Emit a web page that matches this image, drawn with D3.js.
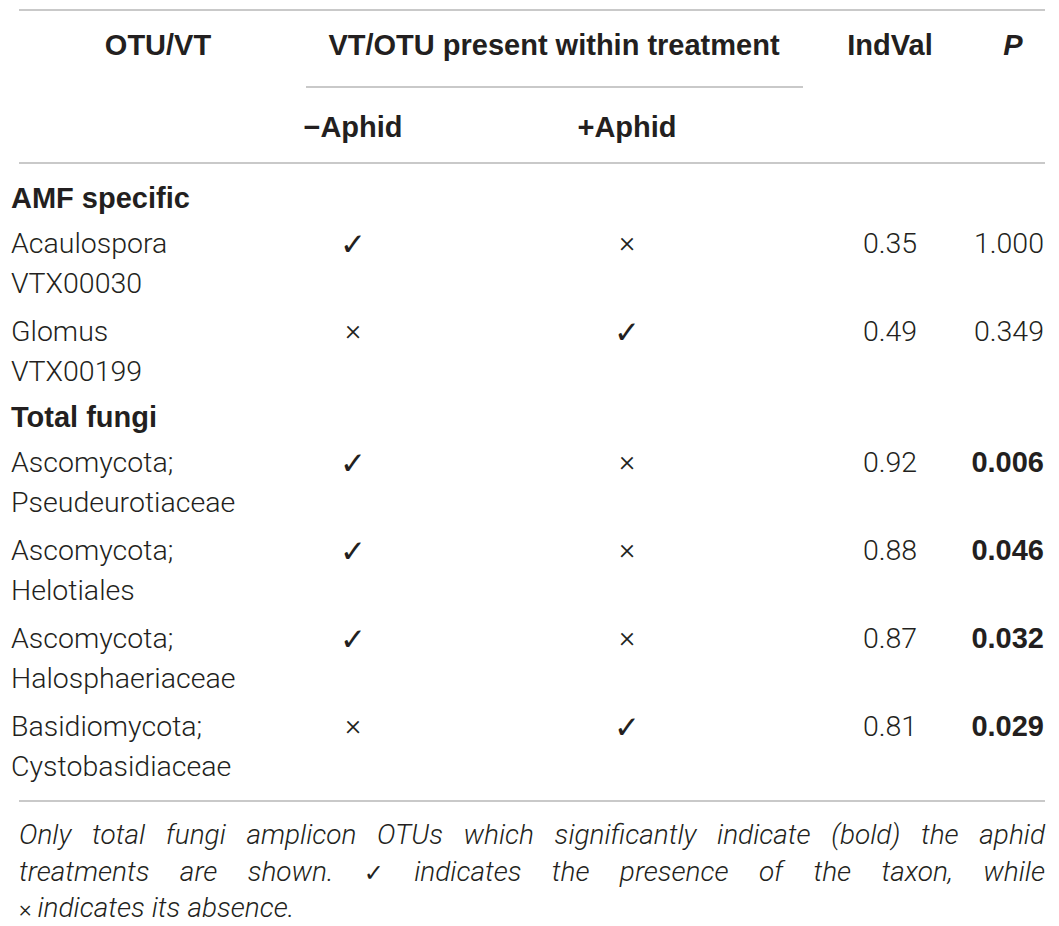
<!DOCTYPE html>
<html>
<head>
<meta charset="utf-8">
<script src="https://cdn.jsdelivr.net/npm/d3@7"></script>
<style>
    html, body { margin: 0; padding: 0; background: #fff; }
    svg { display: block; }
</style>
</head>
<body>
<div id="chart"></div>
<script>
// ── Table content ─────────────────────────────────────────────────────────────
const headers = ['OTU/VT', 'VT/OTU present within treatment', 'IndVal', 'P'];
const treatments = ['\u2212Aphid', '+Aphid'];
const groups = ['AMF specific', 'Total fungi'];

const taxa = [
    ['Acaulospora', 'VTX00030'],
    ['Glomus', 'VTX00199'],
    ['Ascomycota;', 'Pseudeurotiaceae'],
    ['Ascomycota;', 'Helotiales'],
    ['Ascomycota;', 'Halosphaeriaceae'],
    ['Basidiomycota;', 'Cystobasidiaceae'],
];
const taxonGroup = [0, 0, 1, 1, 1, 1];
const minusAphid = [true, false, true, true, true, false];
const plusAphid = [false, true, false, false, false, true];
const indVal = [0.35, 0.49, 0.92, 0.88, 0.87, 0.81];
const pValue = [1.000, 0.349, 0.006, 0.046, 0.032, 0.029];

const footnoteLines = [
    'Only total fungi amplicon OTUs which significantly indicate (bold) the aphid',
    'treatments are shown. \u2713 indicates the presence of the taxon, while',
    '\u00d7indicates its absence.',
];

// ── Layout ────────────────────────────────────────────────────────────────────
const W = 1059, H = 926;
const INK = '#231f20';
const RULE = '#c9c9c9';
const LIGHT = "Roboto, 'Liberation Sans', sans-serif";
const BOLD = "'Liberation Sans', Arial, sans-serif";
const SYMBOL = "'DejaVu Sans', sans-serif";
const FS = 28.5;      // body text
const FS_BOLD = 29;   // headers, group titles, significant P

const ruleX = [19, 1045];

// column anchors
const colX = d3.scaleOrdinal()
    .domain(['label', 'minus', 'plus', 'indval', 'p'])
    .range([11, 353, 627, 890, 1044]);

const svg = d3.select('#chart').append('svg')
    .attr('width', W)
    .attr('height', H);

function hRule(y, x0 = ruleX[0], x1 = ruleX[1]) {
    svg.append('line')
        .attr('x1', x0).attr('x2', x1)
        .attr('y1', y).attr('y2', y)
        .attr('stroke', RULE)
        .attr('stroke-width', 2);
}

// y is the baseline
function txt(s, x, y, opts = {}) {
    return svg.append('text')
        .attr('x', x)
        .attr('y', y)
        .attr('text-anchor', opts.anchor || 'start')
        .attr('font-family', opts.bold ? BOLD : (opts.family || LIGHT))
        .attr('font-weight', opts.bold ? 700 : (opts.weight || 300))
        .attr('font-style', opts.italic ? 'italic' : 'normal')
        .attr('font-size', opts.size || (opts.bold ? FS_BOLD : FS))
        .attr('fill', INK)
        .text(s);
}

// ── Header ────────────────────────────────────────────────────────────────────
hRule(10);
txt(headers[0], 158, 55, { bold: true, anchor: 'middle' });
txt(headers[1], 554, 55, { bold: true, anchor: 'middle' });
txt(headers[2], colX('indval'), 55, { bold: true, anchor: 'middle' });
txt(headers[3], 1013, 55, { bold: true, italic: true, anchor: 'middle' });
hRule(87, 306, 803);
txt(treatments[0], colX('minus'), 137, { bold: true, anchor: 'middle' });
txt(treatments[1], colX('plus'), 137, { bold: true, anchor: 'middle' });
hRule(163);

// ── Body ──────────────────────────────────────────────────────────────────────
const LINE = 40;      // pitch between wrapped lines in a cell
const ROW_GAP = 48;   // last line of a row -> first line of the next
const HEAD_GAP = 45;  // group title -> first row
let y = 208;
let lastGroup = -1;

function markCell(present, x, y) {
    if (present) {
        txt('\u2713', x, y + 2, { anchor: 'middle', family: SYMBOL, weight: 400, size: 31 });
    } else {
        txt('\u00d7', x, y - 1, { anchor: 'middle', size: 30 });
    }
}

taxa.forEach((names, i) => {
    if (taxonGroup[i] !== lastGroup) {
        if (lastGroup !== -1) y -= 2;
        lastGroup = taxonGroup[i];
        txt(groups[lastGroup], colX('label'), y, { bold: true });
        y += HEAD_GAP;
    }
    names.forEach((n, k) => txt(n, colX('label'), y + k * LINE));

    markCell(minusAphid[i], colX('minus'), y);
    markCell(plusAphid[i], colX('plus'), y);

    txt(d3.format('.2f')(indVal[i]), colX('indval'), y, { anchor: 'middle' });
    txt(d3.format('.3f')(pValue[i]), colX('p'), y, {
        anchor: 'end', bold: pValue[i] < 0.05,
    });

    y += (names.length - 1) * LINE + ROW_GAP;
});

hRule(801);

// ── Footnote (justified italic) ───────────────────────────────────────────────
const FOOT_FS = 28;
const footY = [844, 881, 917];
const span = ruleX[1] - ruleX[0];

footnoteLines.forEach((line, li) => {
    const words = line.split(' ');
    const g = svg.append('g');
    const nodes = words.map(w => {
        const isSym = w === '\u2713';
        const t = g.append('text')
            .attr('y', footY[li])
            .attr('font-family', isSym ? SYMBOL : LIGHT)
            .attr('font-weight', isSym ? 400 : 300)
            .attr('font-style', isSym ? 'normal' : 'italic')
            .attr('font-size', isSym ? 24 : FOOT_FS)
            .attr('fill', INK);
        if (w.startsWith('\u00d7')) {
            t.append('tspan').attr('font-style', 'normal').attr('font-size', 24).text('\u00d7 ');
            t.append('tspan').text(w.slice(1));
        } else {
            t.text(w);
        }
        return { t, w: t.node().getComputedTextLength() };
    });
    const total = d3.sum(nodes, d => d.w);
    const last = li === footnoteLines.length - 1;
    const gap = last ? 7 : (span - total) / (nodes.length - 1);
    let x = ruleX[0];
    nodes.forEach(d => {
        d.t.attr('x', x);
        x += d.w + gap;
    });
});
</script>
</body>
</html>
